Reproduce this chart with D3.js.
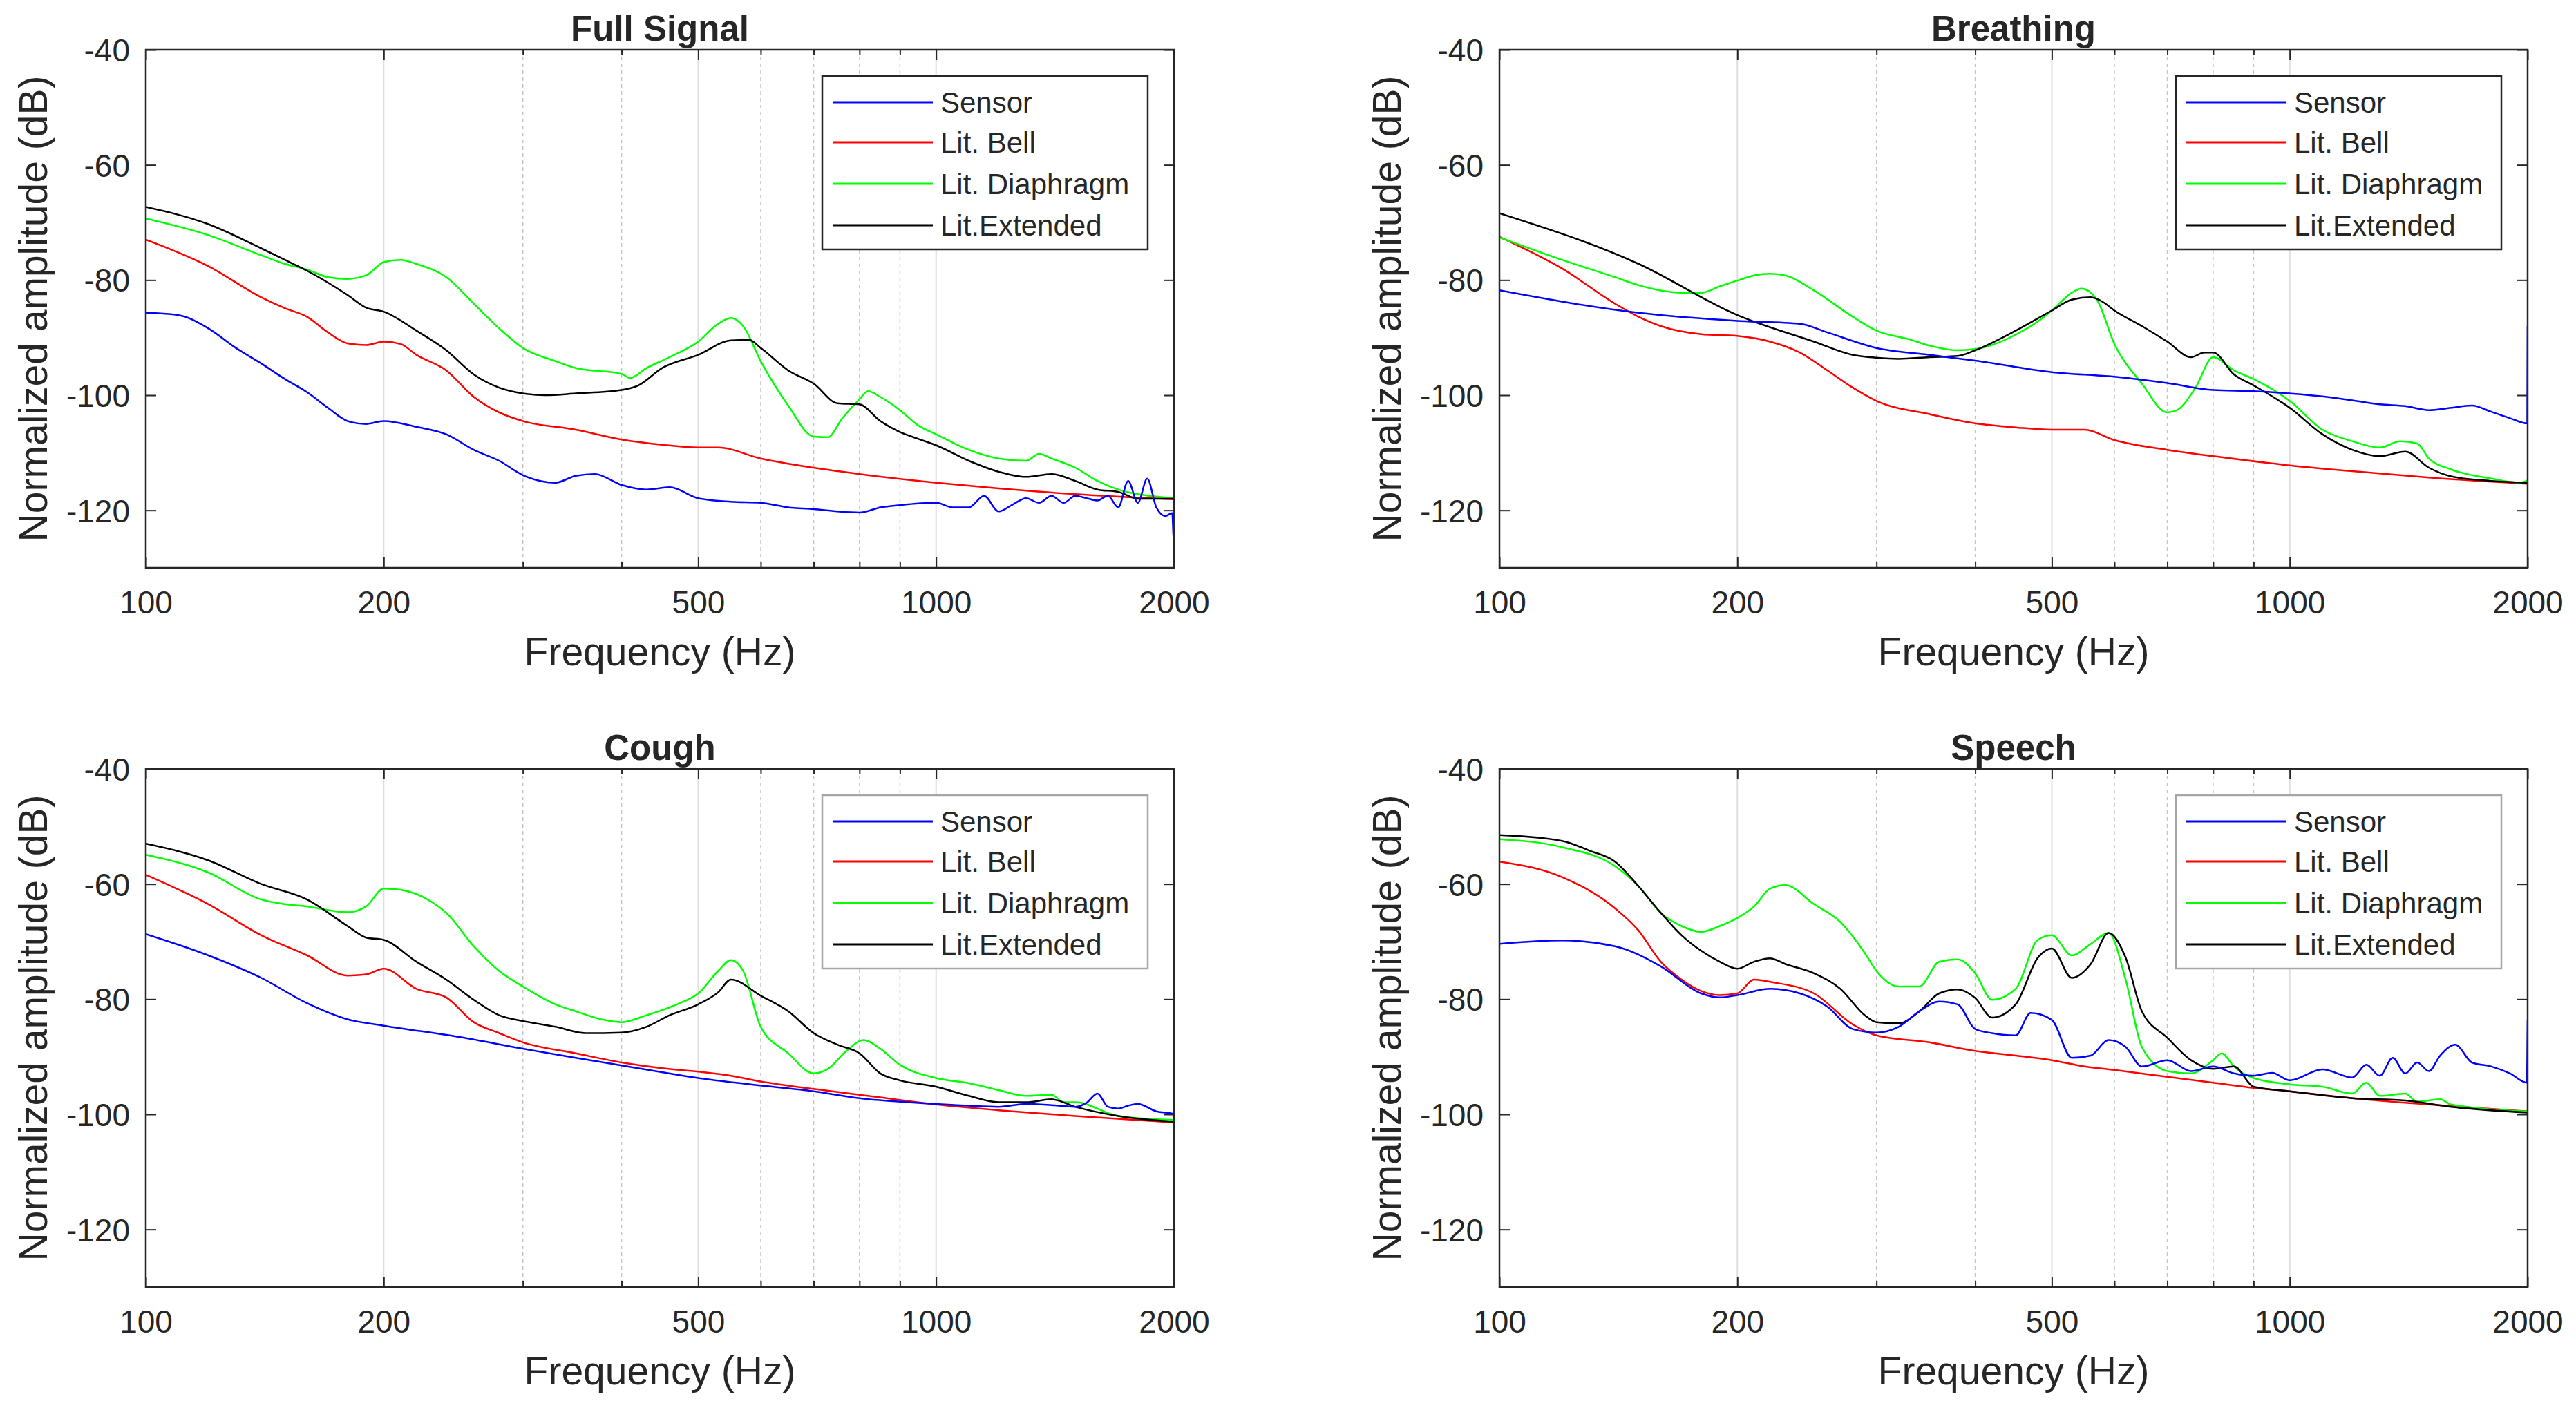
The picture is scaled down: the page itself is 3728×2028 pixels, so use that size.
<!DOCTYPE html>
<html>
<head>
<meta charset="utf-8">
<script src="https://cdn.jsdelivr.net/npm/d3@7"></script>
<style>
  html, body { margin: 0; padding: 0; background: #ffffff; }
  svg { display: block; }
  text { font-family: "Liberation Sans", Arial, Helvetica, sans-serif; fill: #262626; }
</style>
</head>
<body>
<svg id="chart" width="3728" height="2028"></svg>
<script>
// ---------------- DATA (frequency Hz, amplitude dB) ----------------
const seriesNames = ["Sensor", "Lit. Bell", "Lit. Diaphragm", "Lit.Extended"];
const panelTitles = ["Full Signal", "Breathing", "Cough", "Speech"];
const xTickValues = [100, 200, 500, 1000, 2000];
const xTickLabels = ["100", "200", "500", "1000", "2000"];
const xMinorTicks = [300, 400, 600, 700, 800, 900];
const xMajorGrid = [200, 500, 1000];
const yTickValues = [-120, -100, -80, -60, -40];
const yTickLabels = ["-120", "-100", "-80", "-60", "-40"];

// Full Signal
const fullSensor = [[100,-85.7],[110,-86.1],[120,-88.4],[130,-91.8],[140,-94.5],[150,-97.2],[160,-99.5],[170,-102.2],[180,-104.5],[190,-105],[200,-104.5],[220,-105.5],[240,-106.8],[260,-109.5],[280,-111.4],[300,-113.9],[330,-115.2],[350,-114],[370,-113.7],[400,-115.6],[430,-116.4],[460,-116],[500,-117.9],[550,-118.5],[600,-118.7],[650,-119.5],[700,-119.8],[750,-120.2],[800,-120.4],[850,-119.5],[900,-119.1],[1000,-118.7],[1050,-119.5],[1100,-119.5],[1150,-117.5],[1200,-120.2],[1250,-119],[1300,-117.9],[1350,-118.7],[1400,-117.5],[1450,-118.7],[1500,-117.5],[1550,-117.9],[1600,-118.3],[1650,-117.5],[1700,-119.5],[1750,-114.9],[1800,-118.7],[1850,-114.5],[1900,-119.5],[1950,-121],[1990,-120.5],[1998,-124.8],[2000,-106]];
const fullBell = [[100,-73],[120,-77.6],[140,-83],[150,-84.9],[160,-86.4],[170,-89.1],[180,-91],[190,-91.3],[200,-90.7],[210,-91.1],[220,-93],[240,-95.7],[260,-100.3],[280,-103],[300,-104.5],[350,-106],[400,-107.7],[450,-108.6],[500,-109.1],[530,-109.1],[600,-111],[700,-112.6],[800,-113.7],[1000,-115.2],[1200,-116.2],[1500,-117.2],[2000,-118.1]];
const fullDiaphragm = [[100,-69.3],[120,-72.2],[140,-75.7],[150,-77.2],[160,-78.2],[170,-79.5],[180,-79.8],[190,-79.2],[200,-76.9],[210,-76.5],[220,-77.2],[240,-79.5],[260,-84.1],[280,-88.4],[300,-91.8],[330,-94.1],[350,-95.3],[400,-96.3],[410,-97],[430,-95.3],[460,-93.4],[500,-90.7],[530,-87.6],[550,-86.6],[570,-88],[600,-94.1],[650,-101.8],[700,-107.2],[730,-107.3],[760,-104.1],[800,-100.7],[820,-99.3],[850,-100.3],[900,-102.6],[950,-105.3],[1000,-106.8],[1100,-109.5],[1200,-111],[1300,-111.4],[1350,-110.2],[1400,-111],[1500,-112.6],[1600,-114.9],[1700,-116.4],[1800,-117.2],[2000,-117.9]];
const fullExtended = [[100,-67.3],[120,-70.3],[140,-74.5],[150,-76.5],[160,-78.4],[180,-82.6],[190,-84.8],[200,-85.5],[220,-88.8],[240,-92.2],[260,-96.4],[280,-98.7],[300,-99.7],[320,-100],[350,-99.7],[400,-99.1],[420,-98.3],[450,-95.3],[500,-93],[550,-90.5],[580,-90.4],[600,-91.8],[650,-95.7],[700,-98],[750,-101.4],[800,-101.6],[850,-104.5],[900,-106.4],[950,-107.6],[1000,-108.7],[1100,-111.4],[1200,-113.3],[1300,-114.2],[1400,-113.7],[1500,-114.9],[1600,-116.4],[1700,-116.8],[1800,-118],[2000,-118]];

// Breathing
const breathSensor = [[100,-81.8],[150,-85.7],[200,-87.1],[240,-87.6],[260,-89.1],[300,-91.8],[350,-93],[400,-94],[500,-96],[600,-96.8],[700,-97.9],[800,-99.1],[900,-99.3],[1000,-99.7],[1100,-100.2],[1200,-100.9],[1300,-101.6],[1400,-101.9],[1500,-102.6],[1600,-102.2],[1700,-101.8],[1800,-102.9],[1900,-104],[1998,-104.9],[2000,-88]];
const breathBell = [[100,-72.5],[120,-78],[140,-84.1],[150,-86.4],[160,-88],[180,-89.4],[200,-89.7],[220,-90.7],[240,-92.6],[260,-95.7],[280,-98.7],[300,-101],[350,-103.3],[400,-104.9],[450,-105.6],[500,-106],[550,-106],[600,-107.8],[700,-109.5],[800,-110.6],[1000,-112.2],[1200,-113.2],[1500,-114.3],[2000,-115.4]];
const breathDiaphragm = [[100,-72.6],[120,-76.5],[140,-79.5],[150,-80.9],[170,-82.2],[180,-82.2],[190,-81.1],[200,-80.1],[210,-79.2],[220,-78.9],[230,-79.2],[250,-81.8],[280,-86.4],[300,-88.8],[330,-90.3],[350,-91.4],[380,-92.2],[400,-92],[450,-89.5],[480,-87.2],[500,-85.3],[530,-82.2],[545,-81.5],[570,-83.4],[600,-91.1],[650,-98],[700,-103],[720,-102.6],[760,-98.7],[800,-93.4],[850,-95.7],[900,-97.2],[1000,-101],[1100,-106],[1200,-108],[1300,-109.1],[1380,-108],[1450,-108.4],[1500,-111],[1600,-112.9],[1800,-114.5],[1950,-115.2],[2000,-114.8]];
const breathExtended = [[100,-68.4],[150,-77.2],[200,-86.1],[250,-90.7],[280,-93],[300,-93.5],[320,-93.7],[350,-93.4],[380,-93.2],[400,-92.2],[450,-88.8],[500,-85.3],[530,-83.4],[560,-83],[580,-83.8],[600,-85.3],[650,-88],[700,-90.7],[750,-93.4],[780,-92.6],[800,-92.6],[850,-96.4],[900,-98.3],[1000,-102.2],[1100,-106.8],[1200,-109.5],[1300,-110.6],[1400,-109.8],[1500,-112.6],[1600,-114.1],[1800,-114.9],[2000,-115.2]];

// Cough
const coughSensor = [[100,-68.7],[120,-72.4],[140,-76.3],[160,-80.7],[180,-83.5],[200,-84.6],[250,-86.6],[300,-88.6],[350,-90.2],[400,-91.5],[500,-93.7],[600,-95],[700,-96],[800,-97.2],[1000,-98.2],[1200,-98.7],[1300,-98.2],[1400,-98.4],[1500,-98.7],[1550,-98],[1600,-96.4],[1650,-98.7],[1700,-99],[1750,-98.5],[1800,-98.2],[1900,-99.5],[1995,-99.9],[2000,-103]];
const coughBell = [[100,-58.4],[120,-63.5],[140,-68.9],[160,-72.4],[180,-75.9],[190,-75.7],[200,-74.7],[220,-78.2],[240,-79.7],[260,-84],[280,-85.9],[300,-87.5],[350,-89.4],[400,-91],[450,-92],[500,-92.6],[550,-93.3],[600,-94.3],[700,-95.6],[800,-96.6],[1000,-98.3],[1200,-99.3],[1500,-100.3],[2000,-101.4]];
const coughDiaphragm = [[100,-54.9],[120,-58],[140,-62.7],[150,-63.5],[160,-63.9],[180,-64.9],[190,-63.9],[200,-60.8],[210,-61],[230,-63.1],[240,-65],[260,-70.8],[280,-75.1],[300,-77.8],[330,-80.9],[350,-82.1],[380,-83.6],[400,-84],[430,-82.8],[470,-80.9],[500,-79],[530,-75.1],[550,-73.2],[570,-75.1],[600,-84.8],[650,-89.4],[700,-92.9],[730,-92.1],[770,-89],[810,-87.1],[850,-88.6],[900,-91.4],[1000,-93.7],[1100,-94.6],[1200,-95.8],[1300,-96.8],[1400,-96.6],[1450,-97.9],[1500,-97.9],[1700,-100.3],[2000,-101]];
const coughExtended = [[100,-53],[120,-55.9],[140,-60],[160,-62.7],[180,-67.3],[190,-69.3],[200,-69.7],[220,-73.5],[240,-76.6],[260,-80.1],[280,-82.8],[300,-83.8],[330,-84.8],[360,-85.9],[400,-85.8],[430,-84.8],[460,-82.8],[500,-80.9],[530,-78.8],[550,-76.6],[600,-79.4],[650,-82.1],[700,-85.9],[750,-87.9],[800,-89.4],[850,-92.9],[900,-94.1],[1000,-95.2],[1100,-96.8],[1200,-97.9],[1300,-97.9],[1400,-97.4],[1500,-98.7],[1700,-100.3],[2000,-101.3]];

// Speech
const speechSensor = [[100,-70.4],[120,-69.8],[140,-70.8],[160,-74.3],[180,-79],[190,-79.7],[200,-79.3],[220,-78.2],[240,-79],[260,-81.3],[280,-85.2],[300,-85.8],[320,-84.8],[340,-82.1],[360,-80.4],[380,-80.9],[400,-85.2],[420,-85.9],[450,-86.3],[470,-82.4],[500,-83.6],[530,-90.2],[560,-89.8],[590,-87.1],[620,-88.3],[650,-91.7],[700,-90.6],[750,-92.5],[800,-91.7],[850,-92.9],[900,-93.3],[950,-92.8],[1000,-94.1],[1100,-92.2],[1200,-93.6],[1250,-91.4],[1300,-93.3],[1350,-90.2],[1400,-92.9],[1450,-91],[1500,-92.5],[1550,-89.8],[1620,-87.9],[1700,-91],[1800,-91.7],[1900,-92.9],[1995,-94.5],[2000,-83.6]];
const speechBell = [[100,-56.1],[120,-58.8],[140,-64.2],[150,-68.1],[160,-73.5],[170,-76.6],[180,-78.6],[190,-79.3],[200,-79],[210,-76.6],[220,-77],[250,-79],[280,-84.4],[300,-86.3],[350,-87.5],[400,-89],[450,-89.8],[500,-90.6],[550,-91.7],[600,-92.3],[700,-93.5],[800,-94.5],[900,-95.4],[1000,-96],[1200,-97.2],[1500,-98.3],[2000,-99.5]];
const speechDiaphragm = [[100,-52.2],[120,-53.6],[140,-56.9],[150,-60.4],[160,-65],[170,-67.3],[180,-68.3],[190,-67.3],[200,-65.9],[210,-63.9],[220,-60.8],[230,-60.2],[250,-63.5],[270,-66.6],[290,-72],[300,-75.1],[320,-77.8],[340,-77.8],[360,-73.5],[380,-73.1],[400,-75.5],[420,-80.1],[450,-78.2],[480,-69.7],[500,-68.9],[530,-72.4],[560,-70.4],[590,-68.5],[620,-76.6],[650,-88.3],[700,-92.5],[750,-92.9],[800,-90.6],[820,-89.4],[850,-91.7],[900,-93.7],[1000,-94.8],[1100,-95.2],[1200,-96.4],[1250,-94.5],[1300,-96.8],[1400,-96.4],[1450,-97.8],[1550,-97.4],[1600,-98.3],[2000,-99.5]];
const speechExtended = [[100,-51.5],[120,-52.5],[130,-54.2],[140,-56.1],[150,-60.4],[160,-65],[170,-68.9],[180,-71.6],[190,-73.5],[200,-74.7],[210,-73.5],[220,-72.9],[230,-73.9],[250,-75.5],[270,-78.2],[290,-82.8],[300,-84],[320,-84.2],[340,-82.1],[360,-79],[380,-78.3],[400,-79.8],[420,-83.2],[450,-80.9],[480,-72.8],[500,-71.2],[530,-76.3],[560,-73.9],[590,-68.5],[620,-72.8],[650,-82.1],[700,-86.7],[750,-90.6],[800,-92.1],[850,-91.7],[900,-95.2],[1000,-96],[1200,-97.2],[1400,-97.6],[1600,-98.7],[2000,-99.7]];

const seriesColors = ["#0000ff", "#ff0000", "#00ff00", "#000000"];

const panelData = [
  [fullSensor, fullBell, fullDiaphragm, fullExtended],
  [breathSensor, breathBell, breathDiaphragm, breathExtended],
  [coughSensor, coughBell, coughDiaphragm, coughExtended],
  [speechSensor, speechBell, speechDiaphragm, speechExtended]
];

// ---------------- LAYOUT ----------------
const W = 1488, H = 750;
const panelPos = [[211, 72], [2170, 72], [211, 1113], [2170, 1113]];
const legendBorder = ["#262626", "#262626", "#a6a6a6", "#a6a6a6"];

const svg = d3.select("#chart");
svg.append("rect").attr("width", 3728).attr("height", 2028).attr("fill", "#ffffff");

const x = d3.scaleLog().domain([100, 2000]).range([0, W]);
const y = d3.scaleLinear().domain([-130, -40]).range([H, 0]);

panelData.forEach((seriesSet, pi) => {
  const [px, py] = panelPos[pi];
  const g = svg.append("g").attr("transform", `translate(${px},${py})`);

  // clip
  const clipId = "clip" + pi;
  g.append("clipPath").attr("id", clipId).append("rect").attr("width", W).attr("height", H);

  // grid
  g.selectAll(".gmaj").data(xMajorGrid).enter().append("line")
    .attr("x1", d => x(d)).attr("x2", d => x(d)).attr("y1", 0).attr("y2", H)
    .attr("stroke", "#dedede").attr("stroke-width", 2);
  g.selectAll(".gmin").data(xMinorTicks).enter().append("line")
    .attr("x1", d => x(d)).attr("x2", d => x(d)).attr("y1", 0).attr("y2", H)
    .attr("stroke", "#c4c4c4").attr("stroke-width", 1.5).attr("stroke-dasharray", "5,5");

  // lines
  const line = d3.line().x(d => x(d[0])).y(d => y(d[1])).curve(d3.curveMonotoneX);
  const lg = g.append("g").attr("clip-path", `url(#${clipId})`);
  const order = [1, 2, 3, 0];
  order.forEach(si => {
    lg.append("path").datum(seriesSet[si])
      .attr("d", line).attr("fill", "none")
      .attr("stroke", seriesColors[si]).attr("stroke-width", 2.5)
      .attr("stroke-linejoin", "round");
  });

  // axes
  const axB = d3.axisBottom(x).tickValues(xTickValues).tickFormat((d, i) => xTickLabels[i])
    .tickSizeInner(-15).tickSizeOuter(0).tickPadding(33);
  const gb = g.append("g").attr("transform", `translate(0,${H})`).call(axB);
  const axT = d3.axisTop(x).tickValues(xTickValues).tickFormat("").tickSizeInner(-15).tickSizeOuter(0);
  const gt = g.append("g").call(axT);
  const axBm = d3.axisBottom(x).tickValues(xMinorTicks).tickFormat("").tickSizeInner(-8).tickSizeOuter(0);
  const gbm = g.append("g").attr("transform", `translate(0,${H})`).call(axBm);
  const axTm = d3.axisTop(x).tickValues(xMinorTicks).tickFormat("").tickSizeInner(-8).tickSizeOuter(0);
  const gtm = g.append("g").call(axTm);
  const axL = d3.axisLeft(y).tickValues(yTickValues).tickFormat((d, i) => yTickLabels[i])
    .tickSizeInner(-15).tickSizeOuter(0).tickPadding(23);
  const gl = g.append("g").call(axL);
  const axR = d3.axisRight(y).tickValues(yTickValues).tickFormat("").tickSizeInner(-15).tickSizeOuter(0);
  const gr = g.append("g").attr("transform", `translate(${W},0)`).call(axR);

  [gb, gt, gbm, gtm, gl, gr].forEach(a => {
    a.select(".domain").remove();
    a.selectAll(".tick line").attr("stroke", "#262626").attr("stroke-width", 2);
    a.selectAll(".tick text").attr("fill", "#262626")
      .style("font-family", '"Liberation Sans", Arial, sans-serif').style("font-size", "46px");
  });
  gl.selectAll(".tick text").attr("dy", "0.36em");

  // box
  g.append("rect").attr("width", W).attr("height", H)
    .attr("fill", "none").attr("stroke", "#262626").attr("stroke-width", 2.5);

  // title
  g.append("text").attr("x", W / 2).attr("y", -13).attr("text-anchor", "middle")
    .style("font-size", "51px").style("font-weight", "bold").attr("fill", "#000000")
    .text(panelTitles[pi]);

  // axis labels
  g.append("text").attr("x", W / 2).attr("y", 891).attr("text-anchor", "middle")
    .style("font-size", "57px").text("Frequency (Hz)");
  g.append("text").attr("transform", `translate(-143,${H / 2}) rotate(-90)`)
    .attr("text-anchor", "middle").style("font-size", "57px")
    .text("Normalized amplitude (dB)");

  // legend
  const leg = g.append("g").attr("transform", "translate(979,38)");
  leg.append("rect").attr("width", 471).attr("height", 251)
    .attr("fill", "#ffffff").attr("stroke", legendBorder[pi]).attr("stroke-width", 2.5);
  const rowY = [38, 96, 156, 216];
  seriesNames.forEach((name, si) => {
    leg.append("line").attr("x1", 15).attr("x2", 160).attr("y1", rowY[si]).attr("y2", rowY[si])
      .attr("stroke", seriesColors[si]).attr("stroke-width", 3);
    leg.append("text").attr("x", 171).attr("y", rowY[si]).attr("dy", "0.35em")
      .style("font-size", "42px").attr("fill", "#000000").text(name);
  });
});
</script>
</body>
</html>
